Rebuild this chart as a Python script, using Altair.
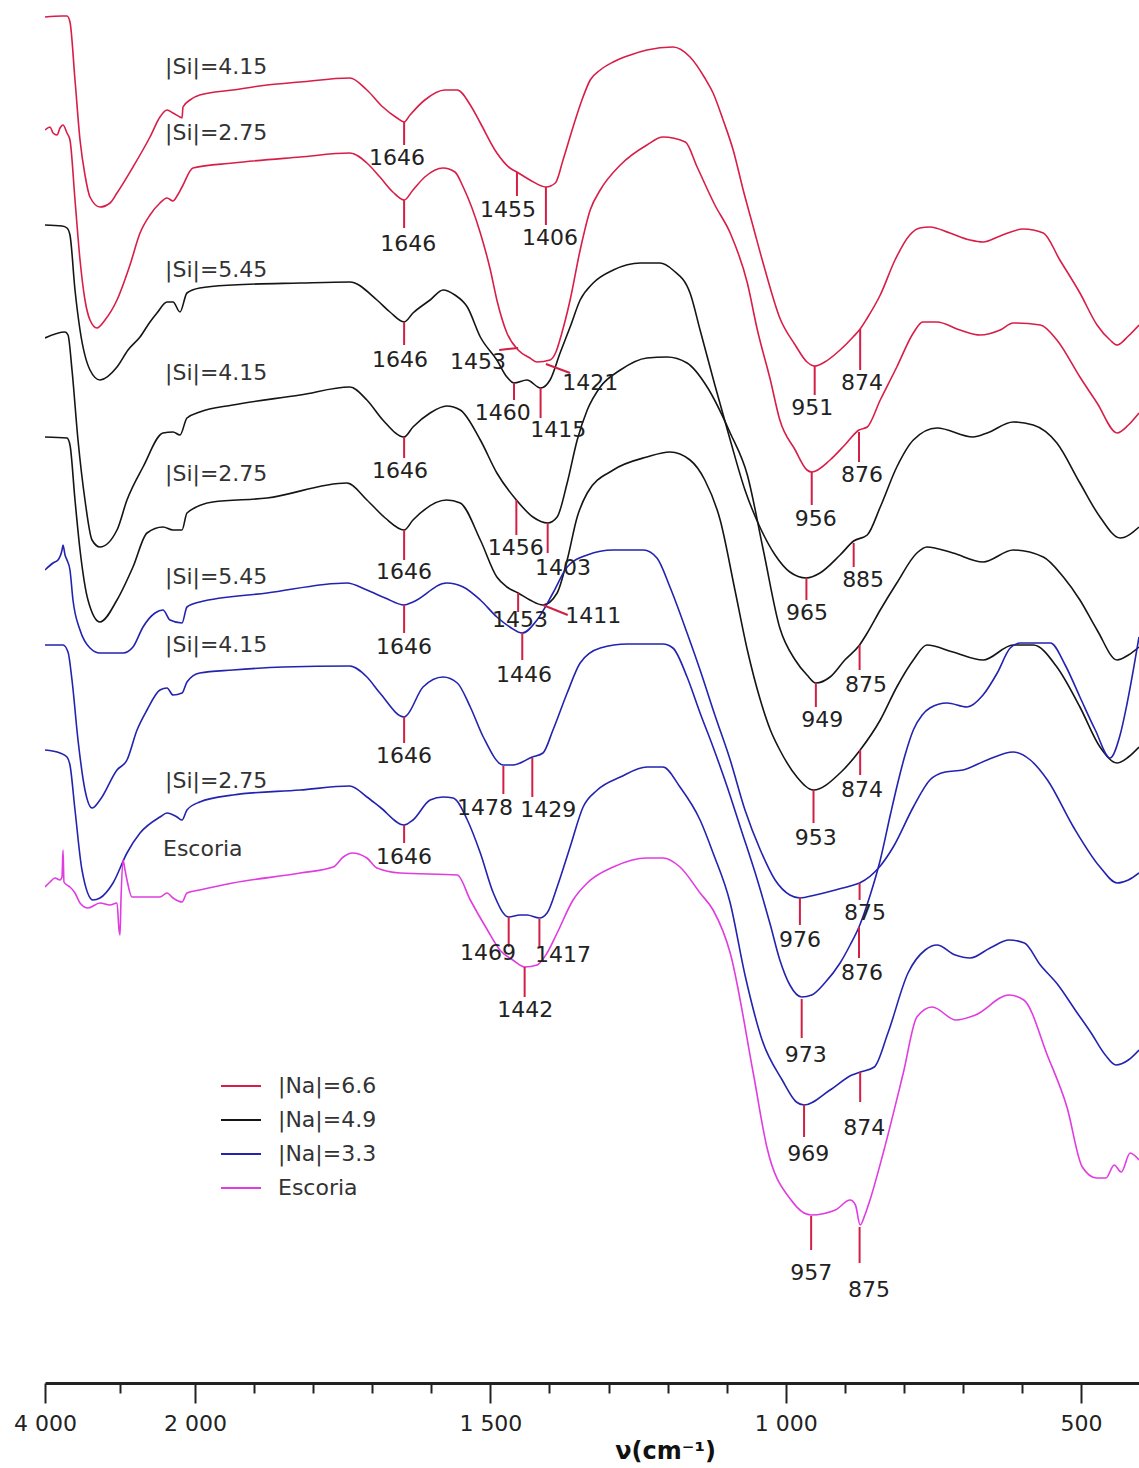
import altair as alt
import pandas as pd

# ---------------- spectra (wavenumber cm-1, vertical offset position in a.u. measured downward) -------------
R1_wn = [4000,3773,3707,3667,3600,3533,3467,3400,3267,3133,3040,2827,2600,2467,2373,2293,2200,2173,2160,2067,1992,1936,1878,1822,1738,1709,1682,1658,1646,1636,1611,1577,1556,1534,1517,1489,1467,1455,1433,1406,1390,1377,1360,1345,1331,1314,1292,1263,1235,1191,1162,1137,1123,1106,1089,1072,1055,1035,1010,984,964,951,934,908,886,874,862,840,815,790,773,756,722,688,666,637,598,564,536,502,473,451,439,420,402]
R1_t = [17,16,16,22,80,140,175,197,207,203,193,167,137,117,110,113,117,118,107,100,95,90,85,82,78,90,107,118,122,115,100,90,90,105,123,153,168,172,180,187,183,160,127,100,80,70,62,55,50,47,57,78,93,120,150,190,227,270,318,345,362,366,362,350,337,329,318,295,260,235,228,227,233,240,242,236,229,233,260,293,325,340,345,336,325]

R2_wn = [4000,3933,3893,3840,3800,3760,3707,3667,3600,3533,3467,3400,3307,3200,3040,2867,2733,2600,2467,2373,2293,2240,2173,2027,1936,1822,1738,1709,1687,1665,1646,1631,1611,1580,1560,1546,1517,1500,1489,1472,1453,1433,1421,1399,1389,1379,1365,1348,1331,1314,1280,1235,1208,1170,1150,1120,1094,1065,1048,1026,1010,984,964,956,925,900,876,862,840,812,784,768,744,705,671,637,615,569,541,502,473,439,420,402]
R2_t = [130,127,133,135,128,125,133,140,200,260,300,320,328,320,300,265,233,215,203,198,201,196,187,168,163,157,153,163,177,192,200,190,177,168,172,187,233,270,300,333,350,358,362,360,352,333,300,250,210,190,165,145,137,142,167,205,233,283,330,380,420,450,470,472,460,445,430,427,400,367,333,322,322,330,335,330,323,325,340,377,403,433,425,413]

K1_wn = [4000,3773,3707,3667,3600,3533,3400,3267,3040,2893,2733,2600,2507,2373,2293,2200,2107,1992,1936,1822,1738,1692,1670,1646,1631,1602,1580,1560,1539,1517,1489,1472,1460,1438,1415,1399,1382,1365,1348,1326,1292,1246,1213,1191,1162,1145,1120,1094,1069,1043,1018,993,965,942,908,885,862,840,812,784,744,683,659,615,581,541,502,468,434,402]
K1_t = [225,226,228,235,290,330,370,380,367,350,337,322,313,302,302,312,293,288,285,283,282,300,312,322,313,300,290,295,307,337,360,377,383,380,388,380,353,327,300,283,270,263,263,270,293,330,385,440,490,528,555,572,578,573,555,541,535,507,467,440,428,437,433,422,425,443,483,517,538,527]

K2_wn = [4000,3733,3693,3640,3560,3467,3373,3267,3040,2907,2693,2427,2293,2200,2107,1992,1936,1822,1738,1709,1682,1646,1631,1602,1574,1551,1517,1489,1456,1428,1403,1387,1370,1353,1336,1314,1280,1235,1201,1167,1133,1094,1065,1038,1010,984,964,949,925,900,875,862,840,812,778,761,717,666,615,564,530,502,473,439,420,402]
K2_t = [338,332,335,370,440,500,540,547,530,500,467,433,432,435,418,412,405,395,387,400,420,437,427,413,406,410,440,473,500,517,523,517,483,440,410,387,370,358,357,363,387,433,475,550,628,660,675,683,677,660,645,633,610,583,553,547,553,562,550,557,577,600,630,660,655,647]

K3_wn = [4000,3707,3667,3600,3533,3427,3267,3040,2827,2640,2427,2293,2173,2107,1970,1878,1743,1709,1678,1646,1631,1574,1551,1517,1489,1472,1453,1433,1411,1387,1370,1353,1336,1292,1235,1196,1162,1137,1111,1086,1065,1043,1026,1010,981,953,908,874,840,812,784,761,717,666,615,581,541,502,468,439,420,402]
K3_t = [437,438,445,500,550,600,622,600,567,533,527,530,530,513,502,498,483,500,518,530,520,500,503,540,577,587,593,600,605,593,560,517,493,470,457,452,460,480,520,590,650,700,730,750,777,790,773,750,720,687,660,645,652,660,645,645,667,707,747,763,757,747]

B1_wn = [4000,3893,3827,3773,3760,3733,3707,3667,3627,3533,3400,3267,3107,2960,2827,2693,2533,2427,2333,2173,2107,1992,1878,1743,1709,1678,1646,1631,1574,1546,1517,1489,1467,1446,1421,1394,1370,1336,1292,1241,1218,1196,1167,1145,1120,1094,1069,1043,1018,993,976,950,916,891,875,840,818,784,756,730,700,659,615,586,557,513,468,439,420,402]
B1_t = [570,563,560,550,545,555,560,570,600,630,648,653,653,653,647,627,613,610,620,623,607,602,593,583,590,598,605,602,583,587,600,617,627,633,620,593,567,555,550,550,558,587,633,670,715,760,810,850,880,895,898,895,890,886,883,866,847,807,780,772,770,760,752,760,780,827,867,883,880,873]

B2_wn = [4000,3760,3693,3640,3560,3467,3373,3267,3040,2907,2773,2640,2467,2373,2293,2173,2107,1992,1936,1851,1738,1709,1687,1646,1641,1614,1580,1556,1534,1512,1478,1462,1429,1411,1394,1370,1348,1314,1268,1208,1191,1167,1145,1123,1099,1077,1048,1026,1010,993,973,956,934,908,891,876,857,840,823,812,798,784,769,756,727,693,666,642,620,603,552,527,502,476,451,434,422,402]
B2_t = [645,645,652,680,740,790,808,800,770,760,730,710,690,688,695,693,682,673,670,667,666,677,693,717,715,687,677,683,707,737,765,765,757,753,730,693,663,648,644,644,648,677,713,747,787,827,880,925,960,985,997,995,983,963,945,927,895,860,815,787,755,730,715,708,703,707,695,673,648,643,643,665,697,730,758,735,703,637]

B3_wn = [4000,3800,3707,3667,3600,3507,3360,3267,3093,2907,2733,2467,2373,2240,2173,2107,1992,1936,1822,1738,1709,1687,1646,1631,1602,1580,1563,1539,1517,1495,1469,1450,1438,1417,1404,1387,1365,1343,1319,1280,1235,1208,1179,1145,1123,1094,1069,1040,1006,982,969,925,888,874,850,827,793,764,744,713,688,654,622,596,569,539,510,483,459,441,420,402]
B3_t = [750,753,757,765,810,870,900,898,883,853,833,817,813,817,820,810,802,795,790,786,797,807,825,820,800,797,798,820,853,893,917,915,915,918,913,887,847,807,790,777,767,767,787,820,853,903,975,1040,1080,1102,1105,1090,1075,1072,1067,1033,973,950,945,955,958,948,940,943,965,985,1010,1033,1055,1065,1060,1050]

E_wn = [4000,3933,3867,3800,3773,3760,3747,3707,3667,3600,3533,3427,3267,3133,3040,3013,3000,2987,2960,2933,2907,2840,2733,2467,2373,2293,2173,2107,1992,1936,1822,1766,1749,1734,1709,1692,1653,1556,1534,1505,1484,1462,1442,1421,1404,1387,1360,1336,1292,1235,1208,1179,1145,1123,1094,1055,1032,991,957,916,891,882,874,866,859,835,801,778,752,712,679,622,597,556,524,498,474,458,444,432,417,402]
E_t = [887,882,878,880,877,850,882,885,887,893,903,908,903,905,903,930,935,900,860,870,880,897,897,897,893,898,902,893,890,883,873,867,857,853,858,868,873,875,900,930,950,960,967,965,953,933,900,883,867,858,858,867,893,910,953,1073,1147,1200,1215,1210,1200,1205,1225,1215,1203,1153,1073,1017,1007,1020,1015,995,1000,1057,1107,1167,1178,1178,1165,1172,1153,1160]

curve_ids = ["R1", "R2", "K1", "K2", "K3", "B1", "B2", "B3", "E"]
curve_groups = ["|Na|=6.6", "|Na|=6.6", "|Na|=4.9", "|Na|=4.9", "|Na|=4.9",
                "|Na|=3.3", "|Na|=3.3", "|Na|=3.3", "Escoria"]
curve_wn = [R1_wn, R2_wn, K1_wn, K2_wn, K3_wn, B1_wn, B2_wn, B3_wn, E_wn]
curve_t = [R1_t, R2_t, K1_t, K2_t, K3_t, B1_t, B2_t, B3_t, E_t]

group_names = ["|Na|=6.6", "|Na|=4.9", "|Na|=3.3", "Escoria"]
group_colors = ["#d81e48", "#151515", "#2323b0", "#e03ce0"]

# ---------------- curve labels ----------------
series_text = ["|Si|=4.15", "|Si|=2.75", "|Si|=5.45", "|Si|=4.15", "|Si|=2.75",
               "|Si|=5.45", "|Si|=4.15", "|Si|=2.75", "Escoria"]
series_wn = [2400, 2400, 2400, 2400, 2400, 2400, 2400, 2400, 2427]
series_t = [67, 133, 270, 373, 474, 577, 645, 781, 849]

# ---------------- peak markers ----------------
mk_wn = [1646,1455,1406, 1646,1453,1406, 951,874, 956,876,
         1646,1460,1415, 965,885, 1646,1456,1403, 949,875,
         1646,1453,1411, 953,874, 1646,1446, 976,875,
         1646,1478,1429, 973,876, 1646,1469,1417, 969,874,
         1442, 957,875]
mk_t1 = [122,172,187, 200,348,364, 366,329, 472,432,
         322,383,388, 578,543, 437,500,523, 683,645,
         530,593,605, 790,750, 605,633, 898,883,
         717,766,758, 999,927, 825,917,919, 1105,1072,
         967, 1216,1227]
mk_wn2 = [1646,1455,1406, 1646,1485,1365, 951,874, 956,876,
          1646,1460,1415, 965,885, 1646,1456,1403, 949,875,
          1646,1453,1369, 953,874, 1646,1446, 976,875,
          1646,1478,1429, 973,876, 1646,1469,1417, 969,874,
          1442, 957,875]
mk_t2 = [145,196,225, 228,350,373, 395,370, 505,462,
         345,400,418, 600,567, 458,535,553, 707,670,
         560,612,615, 823,775, 633,660, 925,900,
         743,794,797, 1038,958, 843,947,948, 1137,1102,
         997, 1250,1263]

pk_text = ["1646","1455","1406", "1646","1453","1421", "951","874", "956","876",
           "1646","1460","1415", "965","885", "1646","1456","1403", "949","875",
           "1646","1453","1411", "953","874", "1646","1446", "976","875",
           "1646","1478","1429", "973","876", "1646","1469","1417", "969","874",
           "1442", "957","875"]
pk_wn = [1658,1470,1399, 1639,1521,1331, 955,871, 949,871,
         1653,1479,1385, 964,869, 1653,1457,1377, 938,864,
         1646,1450,1326, 949,871, 1646,1443, 976,866,
         1646,1509,1402, 966,871, 1646,1504,1377, 962,867,
         1441, 957,859]
pk_t = [158,210,238, 244,362,383, 408,383, 519,475,
        360,413,430, 613,580, 471,548,568, 720,685,
        572,620,616, 838,790, 647,675, 940,913,
        756,808,810, 1055,973, 857,953,955, 1154,1128,
        1010, 1273,1290]

major_ticks = [4000, 2000, 1500, 1000, 500]
minor_ticks = [3000, 1900, 1800, 1700, 1600, 1400, 1300, 1200, 1100, 900, 800, 700, 600]

# ---------------- tables ----------------
rows = []
for cid, grp, wns, ts in zip(curve_ids, curve_groups, curve_wn, curve_t):
    for i, (w, t) in enumerate(zip(wns, ts)):
        rows.append({"curve": cid, "group": grp, "wn": w, "t": t, "i": i})
spec_df = pd.DataFrame(rows)
series_df = pd.DataFrame({"label": series_text, "wn": series_wn, "t": series_t})
mk_df = pd.DataFrame({"wn": mk_wn, "wn2": mk_wn2, "t": mk_t1, "t2": mk_t2})
pk_df = pd.DataFrame({"label": pk_text, "wn": pk_wn, "t": pk_t})

FONT = "DejaVu Sans"
xscale = alt.Scale(domain=[4000, 2000, 402], range=[0, 150, 1094], nice=False, zero=False)
yscale = alt.Scale(domain=[1383, 0], nice=False, zero=False)

label_expr = ("datum.value == 4000 ? '4 000' : datum.value == 2000 ? '2 000' : "
              "datum.value == 1500 ? '1 500' : datum.value == 1000 ? '1 000' : "
              "datum.value == 500 ? '500' : ''")
xaxis = alt.Axis(
    values=sorted(major_ticks + minor_ticks, reverse=True),
    labelExpr=label_expr,
    title="ν(cm⁻¹)",
    titleFont=FONT, titleFontSize=24, titleFontWeight="bold", titleColor="#111",
    titleX=620, titleY=56, titleBaseline="top", titleAnchor="start", titleAlign="center",
    labelFont=FONT, labelFontSize=22, labelColor="#222", labelPadding=10,
    labelFlush=False, labelOverlap=False,
    tickSize={"condition": {"test": "indexof([4000, 2000, 1500, 1000, 500], datum.value) >= 0",
                            "value": 20}, "value": 10},
    tickWidth=2, tickColor="#222", domainWidth=3, domainColor="#222", grid=False,
)

X = lambda f: alt.X(f, type="quantitative", scale=xscale, axis=xaxis)
Y = lambda f: alt.Y(f, type="quantitative", scale=yscale, axis=None)

lines = alt.Chart(spec_df).mark_line(strokeWidth=1.6, clip=True, interpolate="monotone").encode(
    x=X("wn"), y=Y("t"),
    color=alt.Color("group:N",
                    scale=alt.Scale(domain=group_names, range=group_colors),
                    legend=alt.Legend(title=None, orient="none", legendX=175, legendY=1065,
                                      symbolType="stroke", symbolSize=1600, symbolStrokeWidth=2,
                                      labelFont=FONT, labelFontSize=22, labelColor="#333",
                                      labelOffset=16, rowPadding=2, padding=0)),
    detail="curve:N",
    order=alt.Order("i:Q"),
)

markers = alt.Chart(mk_df).mark_rule(color="#d21f44", strokeWidth=2).encode(
    x=X("wn"), x2="wn2", y=Y("t"), y2="t2")

peaks = alt.Chart(pk_df).mark_text(font=FONT, fontSize=22, color="#222",
                                   align="center", baseline="middle").encode(
    x=X("wn"), y=Y("t"), text="label:N")

series = alt.Chart(series_df).mark_text(font=FONT, fontSize=22, color="#333",
                                        align="left", baseline="middle").encode(
    x=X("wn"), y=Y("t"), text="label:N")

chart = alt.layer(lines, markers, peaks, series).properties(
    width=1094, height=1383,
    autosize=alt.AutoSizeParams(type="none"),
    padding={"left": 45, "top": 0, "right": 0, "bottom": 85},
    background="white",
).configure_view(stroke=None)

chart.save("out.html", embed_options={"renderer": "svg", "actions": False})
